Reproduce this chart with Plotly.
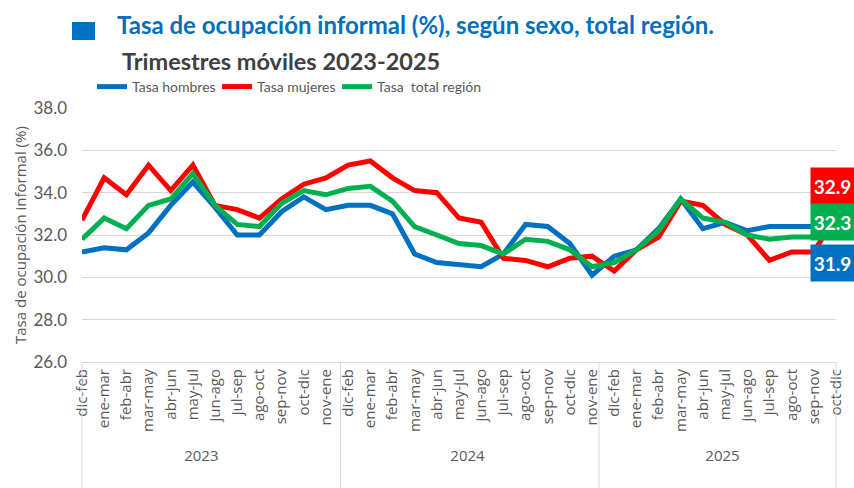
import plotly.graph_objects as go

YEARS = ["2023"] * 12 + ["2024"] * 12 + ["2025"] * 11
PERIODS = [
    "dic-feb", "ene-mar", "feb-abr", "mar-may", "abr-jun", "may-jul",
    "jun-ago", "jul-sep", "ago-oct", "sep-nov", "oct-dic", "nov-ene",
    "dic-feb", "ene-mar", "feb-abr", "mar-may", "abr-jun", "may-jul",
    "jun-ago", "jul-sep", "ago-oct", "sep-nov", "oct-dic", "nov-ene",
    "dic-feb", "ene-mar", "feb-abr", "mar-may", "abr-jun", "may-jul",
    "jun-ago", "jul-sep", "ago-oct", "sep-nov", "oct-dic",
]

hombres = [31.2, 31.4, 31.3, 32.1, 33.4, 34.5, 33.3, 32.0, 32.0, 33.1, 33.8, 33.2,
           33.4, 33.4, 33.0, 31.1, 30.7, 30.6, 30.5, 31.1, 32.5, 32.4, 31.6, 30.1,
           31.0, 31.3, 32.3, 33.7, 32.3, 32.6, 32.2, 32.4, 32.4, 32.4, 31.9]
mujeres = [32.7, 34.7, 33.9, 35.3, 34.1, 35.3, 33.4, 33.2, 32.8, 33.7, 34.4, 34.7,
           35.3, 35.5, 34.7, 34.1, 34.0, 32.8, 32.6, 30.9, 30.8, 30.5, 30.9, 31.0,
           30.3, 31.3, 31.9, 33.6, 33.4, 32.5, 32.0, 30.8, 31.2, 31.2, 32.9]
total = [31.8, 32.8, 32.3, 33.4, 33.7, 34.9, 33.4, 32.5, 32.4, 33.5, 34.1, 33.9,
         34.2, 34.3, 33.6, 32.4, 32.0, 31.6, 31.5, 31.1, 31.8, 31.7, 31.3, 30.5,
         30.7, 31.3, 32.2, 33.7, 32.8, 32.6, 32.0, 31.8, 31.9, 31.9, 32.3]

BLUE = "#0070C0"
RED = "#FF0000"
GREEN = "#00B050"
GREY = "#595959"
LINE_GREY = "#D9D9D9"
FONT = "Lato, sans-serif"
TICK_FONT = "Open Sans, sans-serif"

# plot area in pixels: x 82..836, y 108..362
def px(x):
    return (x - 82) / 754


def py(y):
    return (362 - y) / 254


fig = go.Figure()
series = [
    ("Tasa hombres", hombres, BLUE, "legend", 100, -26),
    ("Tasa mujeres", mujeres, RED, "legend2", 225, 30),
    ("Tasa  total región", total, GREEN, "legend3", 345, 7),
]
for name, vals, colour, leg, _, _ in series:
    fig.add_trace(go.Scatter(
        x=[YEARS, PERIODS], y=vals, name=name, mode="lines",
        line=dict(color=colour, width=5), hoverinfo="skip", legend=leg,
    ))

# end-of-series value boxes
for name, vals, colour, _, _, shift in series:
    fig.add_annotation(
        xref="paper", yref="y", x=px(832.5), y=vals[-1], yshift=shift,
        text=f"<b>{vals[-1]:.1f}</b>", showarrow=False,
        bgcolor=colour, font=dict(color="white", size=19, family=FONT),
        width=39, height=32, borderpad=2, xanchor="center", yanchor="middle",
    )

# group separators under the axis
n = len(PERIODS)
bounds = [0]
for i in range(1, n):
    if YEARS[i] != YEARS[i - 1]:
        bounds.append(i)
bounds.append(n)
for b in bounds:
    fig.add_shape(type="line", xref="paper", yref="paper",
                  x0=b / n, x1=b / n, y0=0, y1=py(490),
                  line=dict(color=LINE_GREY, width=1))

fig.add_shape(type="rect", xref="paper", yref="paper",
              x0=px(72), x1=px(95), y0=py(40), y1=py(22),
              fillcolor=BLUE, line_width=0)
fig.add_annotation(
    xref="paper", yref="paper", x=px(115), y=py(25), xanchor="left", yanchor="middle",
    text="<b>Tasa de ocupación informal (%), según sexo, total región.</b>",
    showarrow=False, font=dict(color=BLUE, size=24, family=FONT),
)
fig.add_annotation(
    xref="paper", yref="paper", x=px(120), y=py(61), xanchor="left", yanchor="middle",
    text="<b>Trimestres móviles 2023-2025</b>",
    showarrow=False, font=dict(color="#404040", size=23.5, family=FONT),
)
fig.add_annotation(
    xref="paper", yref="paper", x=px(20), y=py(235), xanchor="center", yanchor="middle",
    text="Tasa de ocupación informal (%)", textangle=-90,
    showarrow=False, font=dict(color=GREY, size=15, family=TICK_FONT),
)

legend_style = dict(orientation="h", yanchor="middle", xanchor="left",
                    font=dict(size=14, color=GREY, family=FONT),
                    bgcolor="rgba(0,0,0,0)")
legends = {}
for _, _, _, leg, lx, _ in series:
    legends[leg] = dict(legend_style, x=px(lx - 8), y=py(87))

fig.update_layout(
    width=854, height=488,
    margin=dict(l=82, r=18, t=108, b=126, autoexpand=False),
    paper_bgcolor="white", plot_bgcolor="white",
    font=dict(family=FONT, color=GREY, size=15),
    showlegend=True,
    **legends,
)
fig.update_xaxes(
    type="multicategory", tickangle=-90, showgrid=False,
    showline=True, linecolor=LINE_GREY, linewidth=1,
    showdividers=False,
    tickfont=dict(size=15, color=GREY, family=TICK_FONT),
    ticks="", automargin=False,
)
fig.update_yaxes(
    range=[26, 38], dtick=2, tickformat=".1f", showgrid=True,
    gridcolor=LINE_GREY, gridwidth=1, zeroline=False, showline=False,
    tickfont=dict(size=17, color=GREY), ticklabelstandoff=14,
    automargin=False,
)

# the page's default 8px body margin would shift the chart
fig.write_html("out.html", config={"displayModeBar": False},
               post_script="document.body.style.margin = '0';")
